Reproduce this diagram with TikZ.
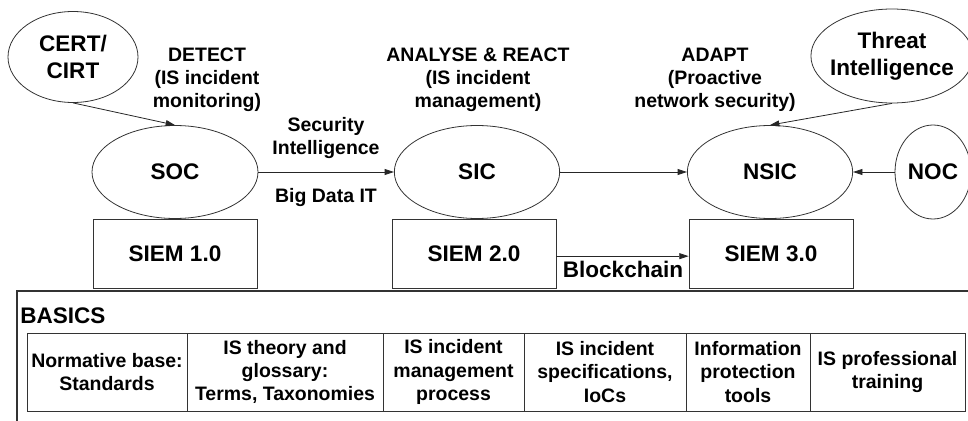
\documentclass[tikz,border=0pt]{standalone}
\usepackage{fontspec}
\setmainfont{Liberation Sans}
\usetikzlibrary{shapes.geometric,arrows.meta}

\tikzset{
  bigtxt/.style={font=\fontsize{16.9}{20.2}\selectfont\bfseries, align=center, inner sep=0.75pt},
  smalltxt/.style={font=\fontsize{14.6}{17.3}\selectfont\bfseries, align=center, inner sep=0.75pt},
  oval/.style={ellipse, draw=black!80, line width=0.6pt, inner sep=0pt, bigtxt},
  siembox/.style={rectangle, draw=black!80, line width=0.6pt, minimum width=123pt, minimum height=51.75pt, inner sep=0pt, bigtxt},
  cell/.style={rectangle, draw=black!80, line width=0.6pt, minimum height=58.5pt, inner sep=0pt, smalltxt},
  arr/.style={draw=black!85, line width=0.6pt, -{Triangle[length=7pt,width=4.5pt]}},
}

\begin{document}
\begin{tikzpicture}[x=0.75pt,y=0.75pt,yscale=-1,xscale=1]
        \useasboundingbox (0,0) rectangle (968,421);

        % centres and sources
        \node[oval, minimum width=97.5pt, minimum height=68.25pt] (cert) at (73,57) {CERT/\\CIRT};
        \node[oval, minimum width=121.5pt, minimum height=70.5pt, inner xsep=-3.5pt] (threat) at (892,56) {Threat\\Intelligence};
        \node[oval, minimum width=124.5pt, minimum height=69.75pt] (soc) at (175,172) {SOC};
        \node[oval, minimum width=124pt, minimum height=69.75pt] (sic) at (477,172) {SIC};
        \node[oval, minimum width=124pt, minimum height=69.75pt] (nsic) at (770,172) {NSIC};
        \node[oval, minimum width=57pt, minimum height=70.5pt] (noc) at (933,172) {NOC};

        \node[siembox] (siem1) at (175,253.5) {SIEM 1.0};
        \node[siembox] (siem2) at (474,253.5) {SIEM 2.0};
        \node[siembox] (siem3) at (771,253.5) {SIEM 3.0};

        % stage captions
        \node[smalltxt] (detect) at (207,80) {DETECT\\(IS incident\\monitoring)};
        \node[smalltxt] (analyse) at (478,80) {ANALYSE \& REACT\\(IS incident\\management)};
        \node[smalltxt] (adapt) at (715,80) {ADAPT\\(Proactive\\network security)};
        \node[smalltxt] (secint) at (326,138) {Security\\Intelligence};
        \node[smalltxt] (bigdata) at (326,198) {Big Data IT};
        \node[bigtxt] (chain) at (623,269) {Blockchain};

        \draw[arr] (cert.south) -- (soc.north);
        \draw[arr] (soc) -- (sic);
        \draw[arr] (sic) -- (nsic);
        \draw[arr] (noc) -- (nsic);
        \draw[arr] (threat.south) -- (nsic.north);
        \draw[arr] ([yshift=2pt]siem2.east) -- ([yshift=2pt]siem3.west);

        % basics
        \draw[draw=black!80, line width=1pt] (17,291) rectangle (990,440);
        \node[bigtxt, anchor=west] (basics) at (19,316) {BASICS};

        \node[cell, minimum width=120pt] (norm) at (107,372) {Normative base:\\Standards};
        \node[cell, minimum width=147pt] (theory) at (285,372) {IS theory and\\glossary:\\Terms, Taxonomies};
        \node[cell, minimum width=105.75pt] (process) at (453.5,372) {IS incident\\management\\process};
        \node[cell, minimum width=121.5pt] (specs) at (605,372) {IS incident\\specifications,\\IoCs};
        \node[cell, minimum width=93pt] (tools) at (748,372) {Information\\protection\\tools};
        \node[cell, minimum width=116.25pt] (training) at (887.5,372) {IS professional\\training};
\end{tikzpicture}
\end{document}
